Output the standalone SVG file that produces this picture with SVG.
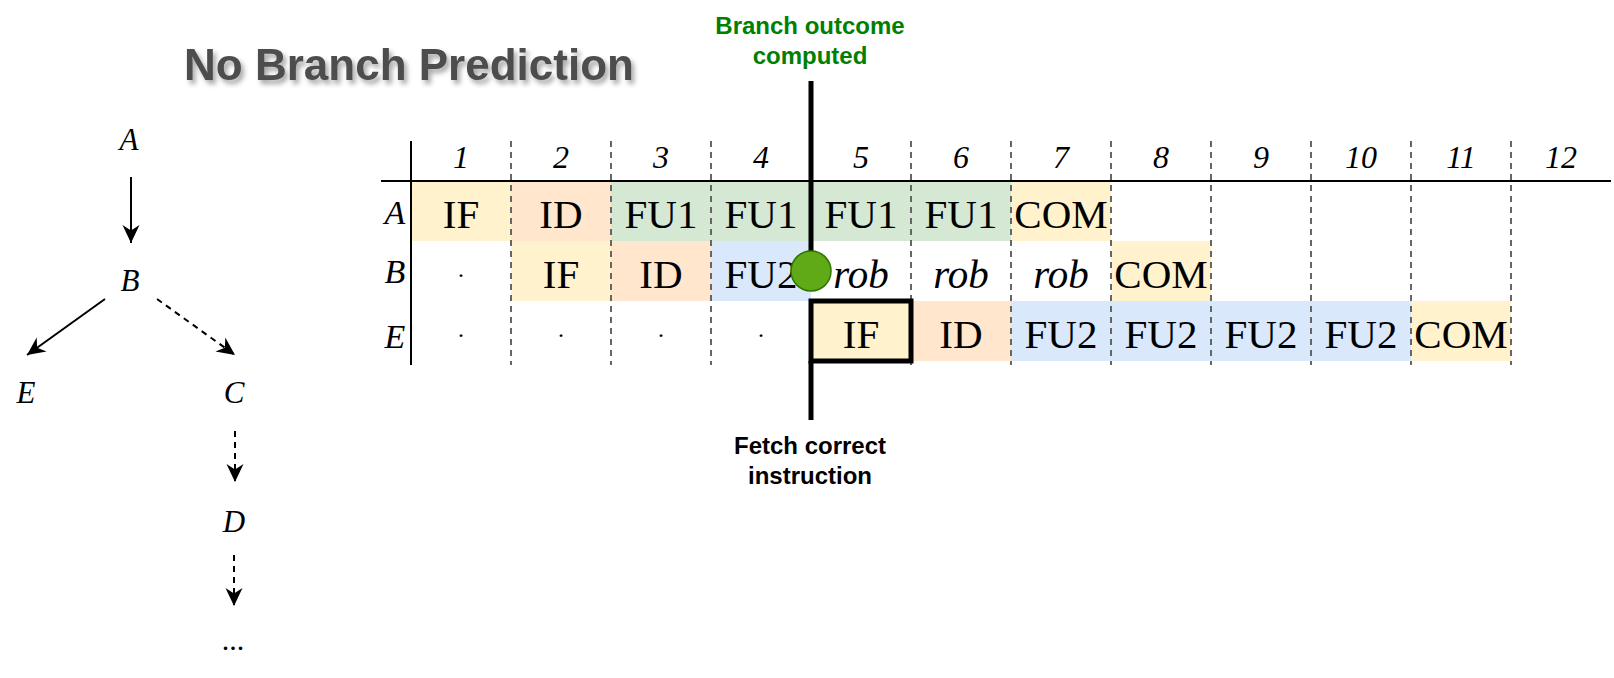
<svg xmlns="http://www.w3.org/2000/svg" width="1614" height="678" viewBox="0 0 1614 678">
<defs>
<style>
.serif{font-family:"Liberation Serif","Times New Roman",serif;fill:#000}
.it{font-style:italic}
.cell{font-size:41px;text-anchor:middle}
.hdr{font-size:32px;text-anchor:middle;font-style:italic}
.rowl{font-size:34px;text-anchor:middle;font-style:italic}
.dot{font-size:24px;text-anchor:middle}
.gl{font-size:31px;text-anchor:middle;font-style:italic}
.sans{font-family:"Liberation Sans",Arial,sans-serif;font-weight:bold;text-anchor:middle}
.grid{stroke:#000;stroke-width:2;fill:none}
.sep{stroke:#666;stroke-width:2;stroke-dasharray:6 5;fill:none}
.y{fill:#fff2cc}.o{fill:#ffe6cc}.g{fill:#d5e8d4}.b{fill:#dae8fc}
.edge{stroke:#000;stroke-width:2;fill:none}
.dash{stroke-dasharray:6 5}
.thick{stroke:#000;stroke-width:5;fill:none}
</style>
<marker id="arr" markerUnits="userSpaceOnUse" markerWidth="20" markerHeight="20" viewBox="-19 -10 20 20" refX="0" refY="0" orient="auto">
<path d="M0,0 L-18,-8.5 L-12.5,0 L-18,8.5 Z" fill="#000" stroke="none"/>
</marker>
<filter id="shadow" x="-10%" y="-30%" width="120%" height="170%">
<feDropShadow dx="3" dy="4" stdDeviation="2.5" flood-color="#000" flood-opacity="0.35"/>
</filter>
</defs>
<rect width="1614" height="678" fill="#fff"/>

<g id="title">
<text class="sans" x="409" y="80" font-size="44" fill="#4d4d4d" filter="url(#shadow)">No Branch Prediction</text>
</g>

<g id="graph-nodes">
<g id="node-A"><text class="serif gl" x="129" y="150">A</text></g>
<g id="node-B"><text class="serif gl" x="130" y="291">B</text></g>
<g id="node-E"><text class="serif gl" x="26" y="403">E</text></g>
<g id="node-C"><text class="serif gl" x="234" y="403">C</text></g>
<g id="node-D"><text class="serif gl" x="234" y="532">D</text></g>
<g id="node-more"><text class="serif" x="233" y="650" font-size="30" text-anchor="middle">...</text></g>
</g>

<g id="connectors">
<line class="edge" x1="131" y1="177" x2="131" y2="243" marker-end="url(#arr)"/>
<line class="edge" x1="105" y1="299" x2="27" y2="355" marker-end="url(#arr)"/>
<line class="edge dash" x1="157" y1="299" x2="235" y2="355" marker-end="url(#arr)"/>
<line class="edge dash" x1="235" y1="431" x2="235" y2="482" marker-end="url(#arr)"/>
<line class="edge dash" x1="234" y1="555" x2="234" y2="606" marker-end="url(#arr)"/>
</g>

<g id="pipeline-table">
<g id="cell-fills">
<rect class="y" x="411" y="181" width="100" height="60"/>
<rect class="o" x="511" y="181" width="100" height="60"/>
<rect class="g" x="611" y="181" width="400" height="60"/>
<rect class="y" x="1011" y="181" width="100" height="60"/>
<rect class="y" x="511" y="241" width="100" height="60"/>
<rect class="o" x="611" y="241" width="100" height="60"/>
<rect class="b" x="711" y="241" width="100" height="60"/>
<rect class="y" x="1111" y="241" width="100" height="60"/>
<rect class="o" x="911" y="301" width="100" height="60"/>
<rect class="b" x="1011" y="301" width="400" height="60"/>
<rect class="y" x="1411" y="301" width="100" height="60"/>
</g>
<g id="grid">
<line class="sep" x1="511" y1="141" x2="511" y2="365"/>
<line class="sep" x1="611" y1="141" x2="611" y2="365"/>
<line class="sep" x1="711" y1="141" x2="711" y2="365"/>
<line class="sep" x1="911" y1="141" x2="911" y2="365"/>
<line class="sep" x1="1011" y1="141" x2="1011" y2="365"/>
<line class="sep" x1="1111" y1="141" x2="1111" y2="365"/>
<line class="sep" x1="1211" y1="141" x2="1211" y2="365"/>
<line class="sep" x1="1311" y1="141" x2="1311" y2="365"/>
<line class="sep" x1="1411" y1="141" x2="1411" y2="365"/>
<line class="sep" x1="1511" y1="141" x2="1511" y2="365"/>
<line class="grid" x1="381" y1="181" x2="1611" y2="181"/>
<line class="grid" x1="411" y1="141" x2="411" y2="365"/>
</g>
<g id="header">
<text class="serif hdr" x="461" y="168">1</text>
<text class="serif hdr" x="561" y="168">2</text>
<text class="serif hdr" x="661" y="168">3</text>
<text class="serif hdr" x="761" y="168">4</text>
<text class="serif hdr" x="861" y="168">5</text>
<text class="serif hdr" x="961" y="168">6</text>
<text class="serif hdr" x="1061" y="168">7</text>
<text class="serif hdr" x="1161" y="168">8</text>
<text class="serif hdr" x="1261" y="168">9</text>
<text class="serif hdr" x="1361" y="168">10</text>
<text class="serif hdr" x="1461" y="168">11</text>
<text class="serif hdr" x="1561" y="168">12</text>
</g>
<g id="row-labels">
<text class="serif rowl" x="395" y="224">A</text>
<text class="serif rowl" x="395" y="283">B</text>
<text class="serif rowl" x="395" y="348">E</text>
</g>
<g id="row-A">
<text class="serif cell" x="461" y="228">IF</text>
<text class="serif cell" x="561" y="228">ID</text>
<text class="serif cell" x="661" y="228">FU1</text>
<text class="serif cell" x="761" y="228">FU1</text>
<text class="serif cell" x="861" y="228">FU1</text>
<text class="serif cell" x="961" y="228">FU1</text>
<text class="serif cell" x="1061" y="228">COM</text>
</g>
<g id="row-B">
<text class="serif dot" x="461" y="283">·</text>
<text class="serif cell" x="561" y="288">IF</text>
<text class="serif cell" x="661" y="288">ID</text>
<text class="serif cell" x="761" y="288">FU2</text>
<text class="serif cell it" x="861" y="288">rob</text>
<text class="serif cell it" x="961" y="288">rob</text>
<text class="serif cell it" x="1061" y="288">rob</text>
<text class="serif cell" x="1161" y="288">COM</text>
</g>
<g id="row-E">
<text class="serif dot" x="461" y="343">·</text>
<text class="serif dot" x="561" y="343">·</text>
<text class="serif dot" x="661" y="343">·</text>
<text class="serif dot" x="761" y="343">·</text>
<text class="serif cell" x="961" y="348">ID</text>
<text class="serif cell" x="1061" y="348">FU2</text>
<text class="serif cell" x="1161" y="348">FU2</text>
<text class="serif cell" x="1261" y="348">FU2</text>
<text class="serif cell" x="1361" y="348">FU2</text>
<text class="serif cell" x="1461" y="348">COM</text>
</g>
</g>

<g id="branch-marker">
<line class="thick" x1="811" y1="81" x2="811" y2="262"/>
<line class="thick" x1="811" y1="361" x2="811" y2="420"/>
<circle cx="811" cy="271" r="20" fill="#60a917" stroke="#2d7600" stroke-width="1.5"/>
</g>

<g id="fetch-box">
<rect x="811" y="301" width="100" height="60" fill="#fff2cc" stroke="#000" stroke-width="5"/>
<text class="serif cell" x="861" y="348">IF</text>
</g>

<g id="label-outcome">
<text class="sans" x="810" y="34" font-size="24" fill="#008000">Branch outcome</text>
<text class="sans" x="810" y="64" font-size="24" fill="#008000">computed</text>
</g>

<g id="label-fetch">
<text class="sans" x="810" y="454" font-size="24" fill="#000">Fetch correct</text>
<text class="sans" x="810" y="484" font-size="24" fill="#000">instruction</text>
</g>
</svg>
